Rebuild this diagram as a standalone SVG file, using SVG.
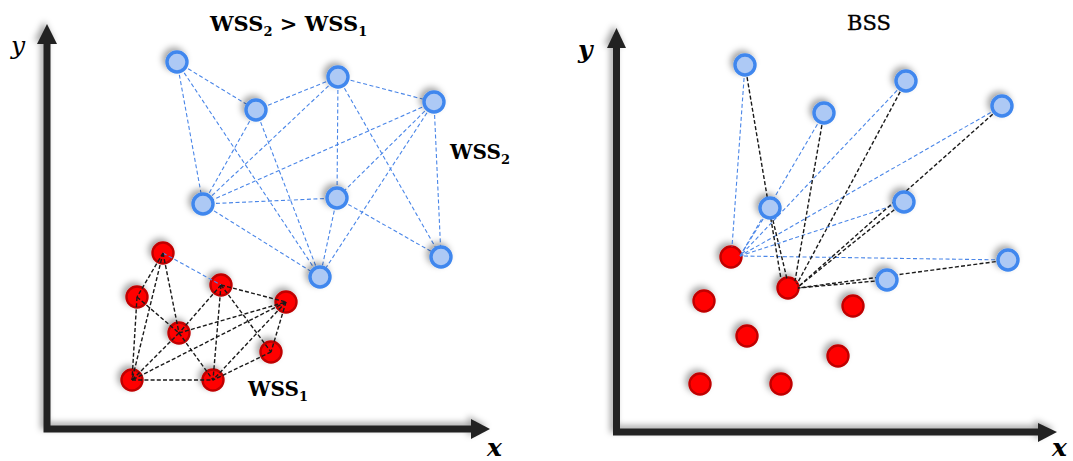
<svg xmlns="http://www.w3.org/2000/svg" width="1073" height="461" viewBox="0 0 1073 461">
  <defs>
    <filter id="soft" x="-50%" y="-50%" width="200%" height="200%">
      <feDropShadow dx="-3" dy="-3" stdDeviation="3" flood-color="#000" flood-opacity="0.35"/>
    </filter>
  </defs>
  <style>
    .axis { fill: none; stroke: #222; stroke-width: 7; stroke-linejoin: miter; }
    .head { fill: #222; }
    .blue { fill: #adc9f5; stroke: #3f87ee; stroke-width: 3.4; }
    .red { fill: #ff0000; stroke: #c00000; stroke-width: 2.4; }
    .eb { stroke: #4a86e8; stroke-width: 1.1; stroke-dasharray: 4 2.5; fill: none; }
    .ek { stroke: #1a1a1a; stroke-width: 1.4; stroke-dasharray: 4 2.2; fill: none; }
    .lbl { font-family: "DejaVu Serif", "Liberation Serif", serif; font-weight: bold; font-size: 20px; fill: #000; }
    .title { font-size: 21px; }
    .sub { font-size: 13px; }
    .bss { font-family: "DejaVu Serif", "Liberation Serif", serif; font-size: 21px; fill: #000; stroke: #000; stroke-width: 0.35; }
    .ax { font-family: "DejaVu Serif", "Liberation Serif", serif; font-style: italic; fill: #000; }
  </style>

  <!-- axes, left chart -->
  <g id="axes-left" filter="url(#soft)">
    <path class="axis" d="M47,42 V429 H473"/>
    <polygon class="head" points="47,24 37,44 57,44"/>
    <polygon class="head" points="490,429 471,419 471,439"/>
  </g>
  <!-- axes, right chart -->
  <g id="axes-right" filter="url(#soft)">
    <path class="axis" d="M616.5,46 V432 H1040"/>
    <polygon class="head" points="616.5,28 607,48 626,48"/>
    <polygon class="head" points="1057,432 1038,423 1038,442"/>
  </g>

  <!-- axis labels and titles -->
  <g id="labels">
    <text class="ax" x="11" y="54" font-size="25">y</text>
    <text class="ax" x="487" y="456" font-size="25" font-weight="bold">x</text>
    <text class="ax" x="578" y="58" font-size="25" font-weight="bold">y</text>
    <text class="ax" x="1052" y="456" font-size="25" font-weight="bold">x</text>
    <text class="lbl title" x="210" y="31">WSS<tspan class="sub" dy="5">2</tspan><tspan dy="-5"> &gt; WSS</tspan><tspan class="sub" dy="5">1</tspan></text>
    <text class="lbl" x="450" y="159">WSS<tspan class="sub" dy="5">2</tspan></text>
    <text class="lbl" x="248" y="396">WSS<tspan class="sub" dy="5">1</tspan></text>
    <text class="bss" x="847" y="30">BSS</text>
  </g>

  <!-- red points, left chart -->
  <g filter="url(#soft)">
    <g id="r1"><circle class="red" cx="163" cy="253" r="10.5"/></g>
    <g id="r2"><circle class="red" cx="137" cy="297" r="10.5"/></g>
    <g id="r3"><circle class="red" cx="221" cy="285" r="10.5"/></g>
    <g id="r4"><circle class="red" cx="286" cy="302" r="10.5"/></g>
    <g id="r5"><circle class="red" cx="179" cy="333" r="10.5"/></g>
    <g id="r6"><circle class="red" cx="271" cy="352" r="10.5"/></g>
    <g id="r7"><circle class="red" cx="132" cy="380" r="10.5"/></g>
    <g id="r8"><circle class="red" cx="213" cy="380" r="10.5"/></g>
  </g>
  <!-- red points, right chart -->
  <g filter="url(#soft)">
    <g id="d1"><circle class="red" cx="731" cy="257" r="10.5"/></g>
    <g id="d2"><circle class="red" cx="788" cy="288" r="10.5"/></g>
    <g id="d3"><circle class="red" cx="704" cy="301" r="10.5"/></g>
    <g id="d4"><circle class="red" cx="853" cy="306" r="10.5"/></g>
    <g id="d5"><circle class="red" cx="747" cy="336" r="10.5"/></g>
    <g id="d6"><circle class="red" cx="838" cy="356" r="10.5"/></g>
    <g id="d7"><circle class="red" cx="700" cy="384" r="10.5"/></g>
    <g id="d8"><circle class="red" cx="781" cy="384" r="10.5"/></g>
  </g>

  <!-- connectors -->
  <g id="connectors">
    <!-- left chart: blue cluster -->
    <line class="eb" x1="177" y1="62" x2="256" y2="110"/>
    <line class="eb" x1="177" y1="62" x2="203" y2="204"/>
    <line class="eb" x1="177" y1="62" x2="320" y2="277"/>
    <line class="eb" x1="256" y1="110" x2="338" y2="77"/>
    <line class="eb" x1="256" y1="110" x2="203" y2="204"/>
    <line class="eb" x1="256" y1="110" x2="320" y2="277"/>
    <line class="eb" x1="338" y1="77" x2="434" y2="102"/>
    <line class="eb" x1="338" y1="77" x2="203" y2="204"/>
    <line class="eb" x1="338" y1="77" x2="337" y2="198"/>
    <line class="eb" x1="338" y1="77" x2="441" y2="257"/>
    <line class="eb" x1="434" y1="102" x2="203" y2="204"/>
    <line class="eb" x1="434" y1="102" x2="337" y2="198"/>
    <line class="eb" x1="434" y1="102" x2="320" y2="277"/>
    <line class="eb" x1="434" y1="102" x2="441" y2="257"/>
    <line class="eb" x1="203" y1="204" x2="337" y2="198"/>
    <line class="eb" x1="203" y1="204" x2="320" y2="277"/>
    <line class="eb" x1="337" y1="198" x2="320" y2="277"/>
    <line class="eb" x1="337" y1="198" x2="441" y2="257"/>
    <line class="eb" x1="163" y1="253" x2="221" y2="285"/>
    <!-- left chart: red cluster -->
    <line class="ek" x1="163" y1="253" x2="137" y2="297"/>
    <line class="ek" x1="163" y1="253" x2="132" y2="380"/>
    <line class="ek" x1="163" y1="253" x2="179" y2="333"/>
    <line class="ek" x1="137" y1="297" x2="132" y2="380"/>
    <line class="ek" x1="137" y1="297" x2="179" y2="333"/>
    <line class="ek" x1="221" y1="285" x2="286" y2="302"/>
    <line class="ek" x1="221" y1="285" x2="179" y2="333"/>
    <line class="ek" x1="221" y1="285" x2="213" y2="380"/>
    <line class="ek" x1="221" y1="285" x2="271" y2="352"/>
    <line class="ek" x1="179" y1="333" x2="286" y2="302"/>
    <line class="ek" x1="179" y1="333" x2="132" y2="380"/>
    <line class="ek" x1="179" y1="333" x2="213" y2="380"/>
    <line class="ek" x1="286" y1="302" x2="132" y2="380"/>
    <line class="ek" x1="286" y1="302" x2="213" y2="380"/>
    <line class="ek" x1="286" y1="302" x2="271" y2="352"/>
    <line class="ek" x1="271" y1="352" x2="213" y2="380"/>
    <line class="ek" x1="132" y1="380" x2="213" y2="380"/>
    <!-- right chart: from the first red point -->
    <line class="eb" x1="745" y1="65" x2="732" y2="247"/>
    <line class="eb" x1="824" y1="113" x2="740" y2="256"/>
    <line class="eb" x1="906" y1="81" x2="740" y2="256"/>
    <line class="eb" x1="1002" y1="106" x2="740" y2="256"/>
    <line class="eb" x1="770" y1="208" x2="740" y2="256"/>
    <line class="eb" x1="904" y1="202" x2="740" y2="256"/>
    <line class="eb" x1="1008" y1="260" x2="740" y2="256"/>
    <!-- right chart: from the second red point -->
    <line class="ek" x1="745" y1="65" x2="781" y2="279"/>
    <line class="ek" x1="770" y1="208" x2="787" y2="279"/>
    <line class="ek" x1="824" y1="113" x2="795" y2="281"/>
    <line class="ek" x1="906" y1="81" x2="797" y2="284"/>
    <line class="ek" x1="1002" y1="106" x2="798" y2="287"/>
    <line class="ek" x1="904" y1="202" x2="798" y2="287"/>
    <line class="ek" x1="1008" y1="260" x2="798" y2="288"/>
    <line class="ek" x1="887" y1="280" x2="798" y2="288"/>
  </g>

  <!-- blue points, left chart -->
  <g filter="url(#soft)">
    <g id="b1"><circle class="blue" cx="177" cy="62" r="10"/></g>
    <g id="b2"><circle class="blue" cx="256" cy="110" r="10"/></g>
    <g id="b3"><circle class="blue" cx="338" cy="77" r="10"/></g>
    <g id="b4"><circle class="blue" cx="434" cy="102" r="10"/></g>
    <g id="b5"><circle class="blue" cx="203" cy="204" r="10"/></g>
    <g id="b6"><circle class="blue" cx="337" cy="198" r="10"/></g>
    <g id="b7"><circle class="blue" cx="320" cy="277" r="10"/></g>
    <g id="b8"><circle class="blue" cx="441" cy="257" r="10"/></g>
  </g>
  <!-- blue points, right chart -->
  <g filter="url(#soft)">
    <g id="c1"><circle class="blue" cx="745" cy="65" r="10"/></g>
    <g id="c2"><circle class="blue" cx="824" cy="113" r="10"/></g>
    <g id="c3"><circle class="blue" cx="906" cy="81" r="10"/></g>
    <g id="c4"><circle class="blue" cx="1002" cy="106" r="10"/></g>
    <g id="c5"><circle class="blue" cx="770" cy="208" r="10"/></g>
    <g id="c6"><circle class="blue" cx="904" cy="202" r="10"/></g>
    <g id="c7"><circle class="blue" cx="1008" cy="260" r="10"/></g>
    <g id="c8"><circle class="blue" cx="887" cy="280" r="10"/></g>
  </g>
</svg>
